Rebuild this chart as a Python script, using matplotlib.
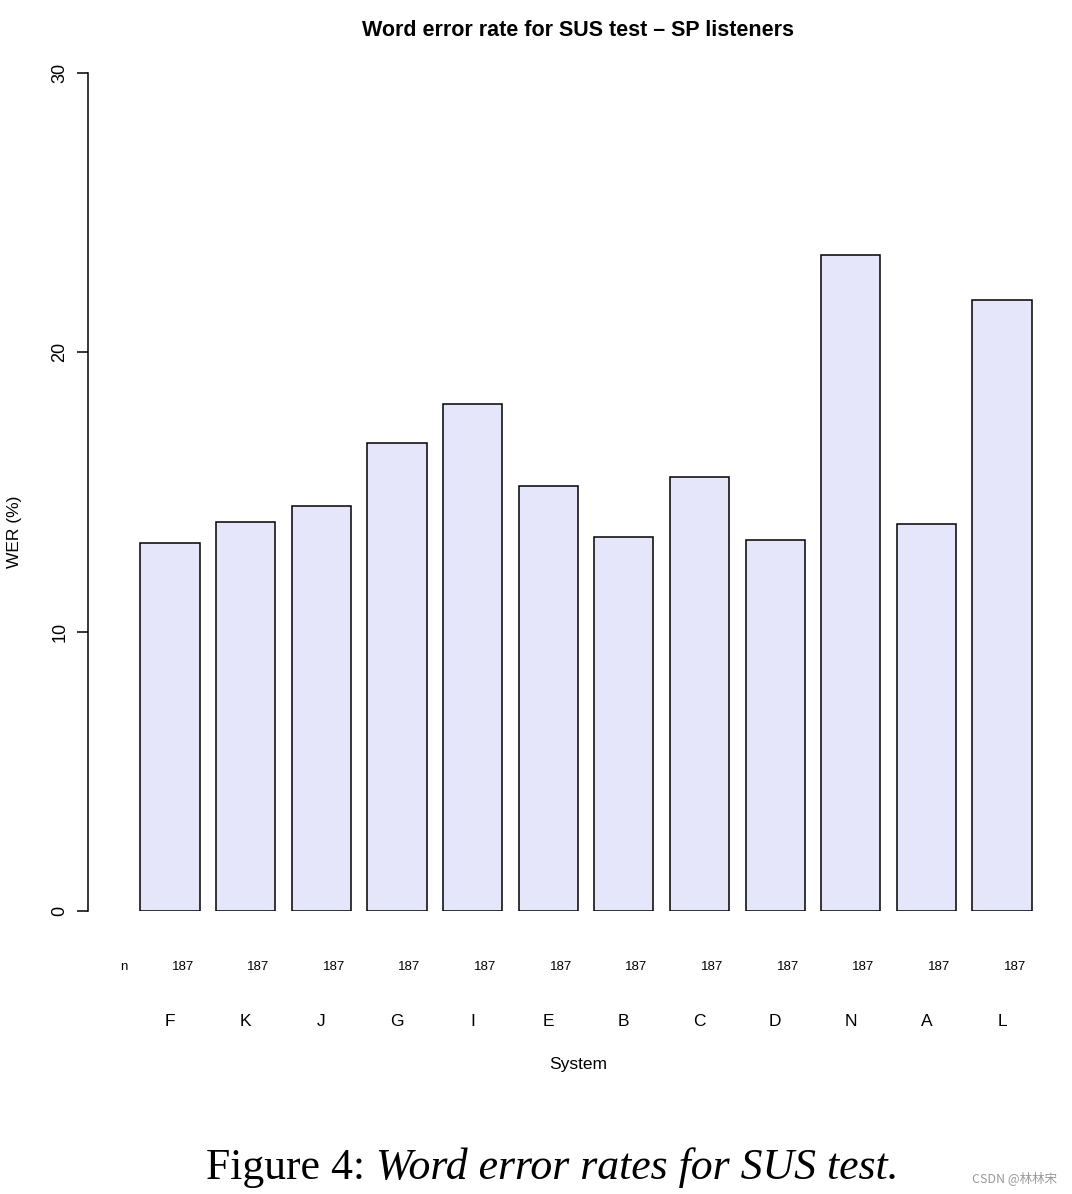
import matplotlib
matplotlib.use("Agg")
import matplotlib.pyplot as plt
import matplotlib.transforms as mtransforms

systems = ["F", "K", "J", "G", "I", "E", "B", "C", "D", "N", "A", "L"]
wer = [13.18, 13.93, 14.50, 16.76, 18.15, 15.22, 13.39, 15.54, 13.28, 23.49, 13.86, 21.88]
n_counts = [187] * 12
yticks = [0, 10, 20, 30]

W, H = 1072, 1194
fig = plt.figure(figsize=(W / 100, H / 100), dpi=100)
fig.patch.set_facecolor("white")

def fx(px):
    return px / W

def fy(py):
    return 1 - py / H

ax = fig.add_axes([fx(88), fy(911), fx(1067) - fx(88), fy(73) - fy(911)])
centers = [0.7 + 1.2 * i for i in range(len(systems))]
ax.bar(centers, wer, width=0.94, color="#E6E6FA", edgecolor="black", linewidth=1.1)
ax.set_xlim(-0.601, 14.93)
ax.set_ylim(0, 30)
for s in ["top", "right", "bottom"]:
    ax.spines[s].set_visible(False)
ax.spines["left"].set_linewidth(1.1)
ax.set_xticks([])
ax.set_yticks(yticks)
ax.set_yticklabels([str(t) for t in yticks], rotation=90, va="center",
                   fontsize=13, family="Liberation Sans")
ax.tick_params(axis="y", length=8, width=1.1, pad=6)
ax.patch.set_alpha(0)

trans = mtransforms.blended_transform_factory(ax.transData, fig.transFigure)
ax.text(-0.03, fy(967), "n", transform=trans, ha="center", va="center",
        fontsize=9.5, family="Liberation Sans")
for c, n, s in zip(centers, n_counts, systems):
    ax.text(c + 0.2, fy(967), str(n), transform=trans, ha="center", va="center",
            fontsize=9.5, family="Liberation Sans")
    ax.text(c, fy(1022), s, transform=trans, ha="center", va="center",
            fontsize=12.5, family="Liberation Sans")

fig.text(fx(578), fy(30), "Word error rate for SUS test \u2013 SP listeners",
         ha="center", va="center", fontsize=15.5, fontweight="bold",
         family="Liberation Sans")
fig.text(fx(578), fy(1065), "System", ha="center", va="center",
         fontsize=12.5, family="Liberation Sans")
fig.text(fx(15), fy(532), "WER (%)", ha="center", va="center", rotation=90,
         fontsize=12.5, family="Liberation Sans")

fig.text(fx(376), fy(1168), "Figure 4: ", ha="right", va="center",
         fontsize=31.5, family="Liberation Serif")
fig.text(fx(376), fy(1168), "Word error rates for SUS test.", ha="left",
         va="center", fontsize=31.5, family="Liberation Serif", style="italic")

fig.text(fx(1057), fy(1178), "CSDN @林林宋", ha="right", va="center",
         fontsize=9, color="#999999", family=["Noto Sans CJK SC", "DejaVu Sans"])

fig.savefig("out.png", dpi=100)
